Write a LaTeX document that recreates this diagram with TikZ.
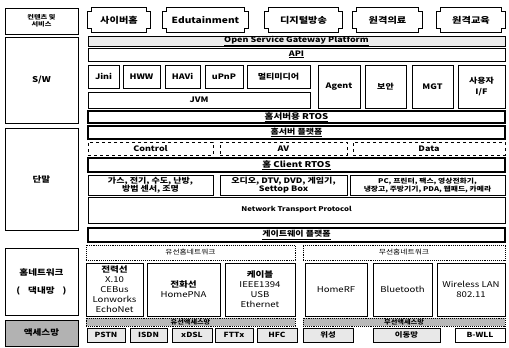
\documentclass[tikz,border=0pt]{standalone}
\usepackage{fontspec}
\setmainfont[FakeStretch=1.2]{Noto Sans CJK KR}
\begin{document}
\begin{tikzpicture}[x=1pt,y=-1pt]
	\tikzstyle{blk} = [draw, line width=0.9pt, inner sep=0pt, align=center, font=\bfseries\fontsize{7.5}{8.5}\selectfont]
	\tikzstyle{cat} = [blk, minimum width=73, font=\bfseries\fontsize{8}{9}\selectfont]
	\tikzstyle{banner} = [inner sep=0pt, font=\bfseries\fontsize{8.5}{9}\selectfont]
	\tikzstyle{bar} = [blk, minimum width=417]
	\tikzstyle{grp} = [blk, dashed, line width=0.7pt]
	\tikzstyle{dev} = [blk, minimum height=20, font=\bfseries\fontsize{7.5}{8.5}\selectfont]
	\tikzstyle{net} = [blk, densely dotted, line width=0.7pt, font=\fontsize{6.5}{7}\selectfont]
	\tikzstyle{hn} = [blk, minimum height=53, font=\fontsize{8}{10}\selectfont]
	\tikzstyle{band} = [blk, densely dotted, fill=gray!55, minimum height=8, font=\bfseries\fontsize{6}{6}\selectfont]
	\tikzstyle{acc} = [blk, fill=gray!18, minimum height=14, font=\bfseries\fontsize{7}{7}\selectfont]

	\useasboundingbox (0,0) rectangle (509,348);

%------------------------------------------------------------
	\node[cat, minimum height=26, font=\bfseries\fontsize{6}{7}\selectfont] (cont) at (41.5,21) {컨텐츠 및\\서비스};
	\node[cat, minimum height=86] (sw) at (41.5,80) {S/W};
	\node[cat, minimum height=102] (term) at (41.5,179) {단말};
	\node[cat, minimum height=67] (hnet) at (41.5,281.5) {홈네트워크\\[9pt](\quad 댁내망\quad )};
	\node[cat, minimum height=26, fill=gray!60] (accnet) at (41.5,333) {액세스망};

%------------------------------------------------------------

	\node[banner, minimum width=62, minimum height=24] (cyber) at (119,20) {사이버홈};
	\node[banner, minimum width=85, minimum height=24] (edut) at (205.5,20) {Edutainment};
	\node[banner, minimum width=77, minimum height=24] (dtv) at (303.5,20) {디지털방송};
	\node[banner, minimum width=69, minimum height=24] (med) at (387.5,20) {원격의료};
	\node[banner, minimum width=68, minimum height=24] (remedu) at (471,20) {원격교육};

	\foreach \n in {cyber,edut,dtv,med,remedu}
		\draw[line width=0.9pt] ([xshift=4]\n.north west) -- ([xshift=-4]\n.north east)
			-- ([xshift=-4,yshift=-4]\n.north east) -- ([yshift=-4]\n.north east)
			-- ([yshift=4]\n.south east) -- ([xshift=-4,yshift=4]\n.south east)
			-- ([xshift=-4]\n.south east) -- ([xshift=4]\n.south west)
			-- ([xshift=4,yshift=4]\n.south west) -- ([yshift=4]\n.south west)
			-- ([yshift=-4]\n.north west) -- ([xshift=4,yshift=-4]\n.north west) -- cycle;

%------------------------------------------------------------

	\node[bar, minimum height=10, fill=gray!15] (osgp) at (296.5,41) {\underline{Open Service Gateway Platform}};
	\node[bar, minimum height=13] (api) at (296.5,54.5) {\underline{API}};

	\node[blk, minimum width=31, minimum height=23] (jini) at (103.5,76.5) {Jini};
	\node[blk, minimum width=37, minimum height=23] (hww) at (141.5,76.5) {HWW};
	\node[blk, minimum width=35, minimum height=23] (havi) at (182.5,76.5) {HAVi};
	\node[blk, minimum width=38, minimum height=23] (upnp) at (224,76.5) {uPnP};
	\node[blk, minimum width=63, minimum height=23] (mm) at (278.5,76.5) {멀티미디어};
	\node[blk, minimum width=222, minimum height=16] (jvm) at (199,100) {JVM};

	\node[blk, minimum width=42, minimum height=43] (agent) at (339,86.5) {Agent};
	\node[blk, minimum width=41, minimum height=43] (sec) at (385.5,86.5) {보안};
	\node[blk, minimum width=41, minimum height=43] (mgt) at (432.5,86.5) {MGT};
	\node[blk, minimum width=47, minimum height=43] (ui) at (481.5,86.5) {사용자\\[2pt]I/F};

%------------------------------------------------------------

	\node[bar, minimum height=12, line width=1.1pt, font=\bfseries\fontsize{8}{8}\selectfont] (srtos) at (296.5,117) {\underline{홈서버용 RTOS}};
	\node[bar, minimum height=13, line width=1.1pt] (splat) at (296.5,132.5) {\underline{홈서버 플랫폼}};

	\node[grp, minimum width=125, minimum height=13] (ctrl) at (150.5,148.5) {Control};
	\node[grp, minimum width=127, minimum height=13] (av) at (283.5,148.5) {AV};
	\node[grp, minimum width=152, minimum height=13] (data) at (429,148.5) {Data};

	\node[bar, minimum height=14, line width=1.1pt, font=\bfseries\fontsize{8}{8}\selectfont] (crtos) at (296.5,165) {\underline{홈 Client RTOS}};

	\node[dev, minimum width=125] (dev1) at (150.5,185) {가스, 전기, 수도, 난방,\\방범 센서, 조명};
	\node[dev, minimum width=127] (dev2) at (283.5,185) {오디오, DTV, DVD, 게임기,\\Settop Box};
	\node[dev, minimum width=155, font=\bfseries\fontsize{6.5}{8}\selectfont] (dev3) at (427.5,185) {PC, 프린터, 팩스, 영상전화기,\\냉장고, 주방기기, PDA, 웹패드, 카메라};

	\node[bar, minimum height=26, font=\bfseries\fontsize{6.5}{7}\selectfont] (ntp) at (296.5,210) {Network Transport Protocol};
	\node[bar, minimum height=14, line width=1.1pt] (gw) at (296.5,235) {\underline{게이트웨이 플랫폼}};

%------------------------------------------------------------

	\node[net, minimum width=209, minimum height=15] (wired) at (190.5,252.5) {유선홈네트워크};
	\node[net, minimum width=202, minimum height=15] (wless) at (404,252.5) {무선홈네트워크};

	\node[hn, minimum width=57] (plc) at (114.5,289.5) {\textbf{전력선}\\X.10\\CEBus\\Lonworks\\EchoNet};
	\node[hn, minimum width=73] (tel) at (183.5,289.5) {\textbf{전화선}\\HomePNA};
	\node[hn, minimum width=70] (cab) at (260,289.5) {\textbf{케이블}\\IEEE1394\\USB\\Ethernet};
	\node[hn, minimum width=62] (rf) at (336,289.5) {HomeRF};
	\node[hn, minimum width=59] (bt) at (402.5,289.5) {Bluetooth};
	\node[hn, minimum width=68] (wlan) at (471,289.5) {Wireless LAN\\802.11};

%------------------------------------------------------------

	\node[band, minimum width=209] (wacc) at (190.5,322) {유선액세스망};
	\node[band, minimum width=202] (lacc) at (404,322) {무선액세스망};

	\node[acc, minimum width=38] (pstn) at (106,335) {PSTN};
	\node[acc, minimum width=37] (isdn) at (148.5,335) {ISDN};
	\node[acc, minimum width=40] (xdsl) at (192,335) {xDSL};
	\node[acc, minimum width=38] (fttx) at (234,335) {FTTx};
	\node[acc, minimum width=40] (hfc) at (277,335) {HFC};
	\node[acc, minimum width=50] (sat) at (328,335) {위성};
	\node[acc, minimum width=67] (mob) at (406.5,335) {이동망};
	\node[acc, minimum width=50, fill=none] (bwll) at (480,335) {B-WLL};

\end{tikzpicture}
\end{document}
